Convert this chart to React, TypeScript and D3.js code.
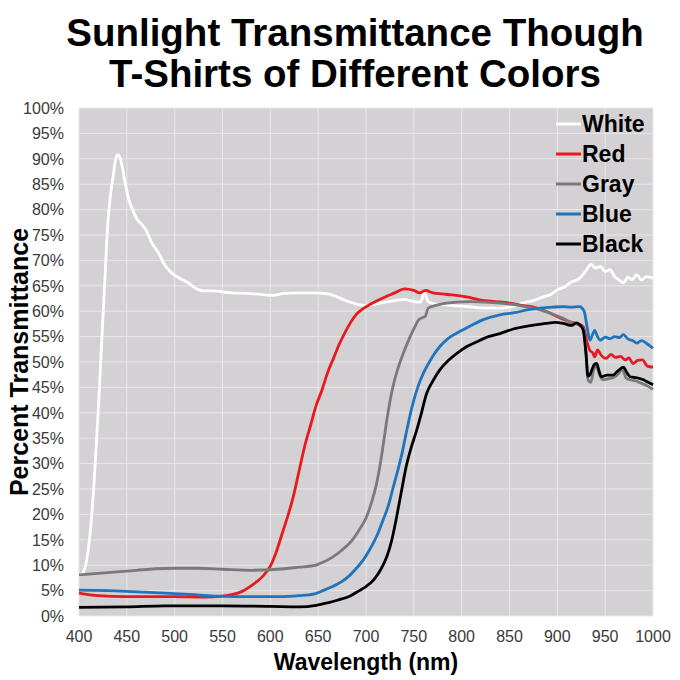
import { useRef, useEffect } from "react";
import * as d3 from "d3";

type Pt = [number, number];

const TITLE_LINES = ["Sunlight Transmittance Though", "T-Shirts of Different Colors"];
const X_TICKS = [400, 450, 500, 550, 600, 650, 700, 750, 800, 850, 900, 950, 1000];
const Y_TICKS = d3.range(0, 101, 5);

// [wavelength nm, percent transmittance]
const WHITE: Pt[] = [
  [400, 8], [404, 8.5], [408, 11], [412, 17], [416, 27], [420, 40], [424, 55], [427, 66],
  [430, 77], [433, 83], [436, 87], [439, 90.5], [441, 90.8], [444, 89.5], [448, 85.5],
  [452, 82], [456, 80], [461, 78], [466, 77], [470, 76], [476, 73.5], [483, 71.5],
  [490, 69], [497, 67.5], [505, 66.5], [515, 65.5], [522, 64.5], [530, 64], [540, 64],
  [550, 63.8], [560, 63.6], [575, 63.5], [590, 63.3], [602, 63.1], [615, 63.5],
  [630, 63.6], [645, 63.6], [660, 63.4], [670, 62.8], [680, 62], [690, 61.4], [700, 61.1],
  [710, 61.4], [720, 61.8], [730, 62.1], [740, 62.3], [750, 61.9], [757, 61.8],
  [761, 63.5], [765, 61.9], [770, 61.5], [780, 61.3], [790, 61.1], [800, 61], [812, 60.8],
  [825, 60.6], [840, 60.6], [855, 61], [865, 61.7], [875, 62.1], [885, 62.8], [893, 63.3],
  [900, 64.2], [908, 64.8], [915, 65.8], [920, 66.1], [925, 66.8], [930, 68], [935, 69.2],
  [940, 68.5], [945, 68.8], [950, 67.8], [955, 68.2], [960, 66.8], [965, 66.1],
  [969, 65.6], [974, 66.7], [978, 66.2], [983, 67.2], [988, 66.1], [993, 66.8], [1000, 66.5],
];

const RED: Pt[] = [
  [400, 4.5], [420, 4], [450, 3.8], [500, 3.8], [530, 3.7], [550, 3.9], [560, 4.2],
  [570, 4.8], [578, 5.7], [586, 6.8], [592, 7.8], [600, 9.8], [606, 12.5], [612, 16],
  [618, 19.5], [624, 23.5], [630, 28.5], [636, 33.5], [642, 37.5], [648, 41.5],
  [654, 44.5], [660, 48], [666, 50.7], [672, 53.5], [678, 55.8], [684, 57.8], [690, 59.4],
  [697, 60.5], [705, 61.4], [712, 62.1], [720, 62.8], [730, 63.6], [740, 64.4],
  [750, 64.1], [756, 63.6], [762, 64.1], [770, 63.6], [780, 63.4], [790, 63.2],
  [805, 62.8], [820, 62.2], [835, 61.9], [850, 61.6], [865, 61.1], [875, 60.8], [888, 60],
  [898, 59.1], [906, 58.4], [913, 57.9], [920, 57.6], [927, 57], [931, 54], [934, 52.3],
  [937, 51.8], [939, 51], [942, 52.4], [946, 51.3], [951, 50.7], [956, 51.5], [961, 50.9],
  [966, 51.1], [971, 50.4], [975, 50.8], [979, 49.7], [984, 50.3], [989, 50.4],
  [994, 49.2], [1000, 49],
];

const GRAY: Pt[] = [
  [400, 8.1], [420, 8.4], [440, 8.7], [460, 9], [480, 9.3], [500, 9.4], [525, 9.4],
  [550, 9.2], [580, 9], [600, 9.1], [615, 9.3], [630, 9.6], [645, 9.9], [655, 10.6],
  [665, 11.6], [675, 13], [685, 14.8], [693, 17], [700, 19.3], [706, 22.5], [711, 26],
  [715, 30], [719, 35], [723, 40], [728, 45], [733, 48.5], [739, 51.7], [745, 54.5],
  [750, 56.5], [755, 58.3], [760, 58.8], [762, 59], [765, 60.6], [772, 61.1], [781, 61.5],
  [795, 61.8], [810, 61.9], [825, 61.8], [840, 61.6], [855, 61.3], [870, 60.8],
  [885, 60.1], [898, 59.2], [906, 58.6], [913, 57.9], [920, 57.5], [927, 56.6], [930, 52],
  [932, 46.5], [935, 46], [938, 48.5], [941, 49.2], [944, 47.5], [948, 46.5],
  [953, 46.7], [958, 46.9], [963, 47.5], [968, 48.5], [972, 46.8], [976, 46.5],
  [982, 46.3], [988, 45.8], [994, 45.3], [1000, 44.6],
];

const BLUE: Pt[] = [
  [400, 5.1], [430, 5], [456, 4.8], [490, 4.5], [520, 4.2], [545, 3.9], [580, 3.8],
  [610, 3.8], [630, 4], [645, 4.3], [655, 5], [665, 5.8], [675, 6.8], [683, 8], [690, 9.4],
  [697, 11], [703, 12.8], [708, 14.5], [713, 16.5], [718, 19], [723, 21.5], [728, 25],
  [733, 28.5], [738, 32.3], [742, 36], [746, 39.5], [750, 42.5], [755, 45.5], [760, 47.8],
  [765, 49.6], [770, 51.2], [777, 53], [785, 54.5], [798, 56], [810, 57.2], [822, 58.3],
  [840, 59.3], [855, 59.7], [870, 60.3], [882, 60.6], [895, 60.8], [906, 60.9],
  [915, 60.8], [923, 60.9], [928, 60], [931, 57], [934, 54.3], [937, 55.5], [939, 56.2],
  [942, 55], [945, 54.3], [950, 54.9], [955, 54.6], [960, 55], [965, 54.8], [969, 55.4],
  [974, 54.5], [979, 54.2], [983, 53.7], [988, 54.2], [993, 53.7], [1000, 52.7],
];

const BLACK: Pt[] = [
  [400, 1.7], [450, 1.8], [490, 2], [550, 2], [600, 1.9], [630, 1.8], [648, 2.1],
  [660, 2.6], [670, 3.1], [683, 3.9], [693, 5], [700, 5.8], [708, 7.1], [715, 9],
  [722, 11.8], [727, 15], [732, 19.5], [737, 24.5], [742, 29.4], [747, 33], [753, 36.6],
  [758, 40], [763, 43.6], [770, 46.3], [777, 48.4], [786, 50.3], [795, 51.7], [805, 53],
  [816, 54], [828, 55], [840, 55.6], [854, 56.5], [870, 57.1], [888, 57.6], [898, 57.8],
  [906, 57.6], [915, 57.2], [920, 57.7], [924, 57.2], [927, 56.3], [930, 51.5],
  [932, 47.2], [934, 47.5], [936, 48.4], [939, 49.6], [941, 49.7], [944, 48], [946, 47.1],
  [952, 47.4], [958, 47.4], [963, 48.2], [969, 49], [973, 47.8], [976, 47.1], [983, 46.9],
  [990, 46.5], [995, 46], [1000, 45.5],
];

const SERIES = [
  { name: "White", color: "#ffffff", data: WHITE },
  { name: "Red", color: "#e8191f", data: RED },
  { name: "Gray", color: "#7a7a7a", data: GRAY },
  { name: "Blue", color: "#1f74bd", data: BLUE },
  { name: "Black", color: "#000000", data: BLACK },
];

const FONT = "'Liberation Sans', Arial, sans-serif";

function Chart() {
  const svgRef = useRef<SVGSVGElement>(null);

  useEffect(() => {
    if (!svgRef.current) return;
    const svg = d3.select(svgRef.current);
    svg.selectAll("*").remove();

    const W = 680;
    const H = 680;
    const margin = { top: 108, right: 27, bottom: 64, left: 79 };
    const width = W - margin.left - margin.right;
    const height = H - margin.top - margin.bottom;

    svg.append("rect").attr("width", W).attr("height", H).attr("fill", "#ffffff");

    // title
    svg
      .append("g")
      .selectAll("text")
      .data(TITLE_LINES)
      .join("text")
      .attr("x", 355)
      .attr("y", (_, i) => 46 + i * 41)
      .attr("text-anchor", "middle")
      .attr("font-family", FONT)
      .attr("font-weight", "bold")
      .attr("font-size", 38.5)
      .attr("fill", "#000")
      .text((d) => d);

    const g = svg
      .append("g")
      .attr("transform", `translate(${margin.left},${margin.top})`);

    const x = d3.scaleLinear().domain([400, 1000]).range([0, width]);
    const y = d3.scaleLinear().domain([0, 100]).range([height, 0]);

    g.append("rect")
      .attr("width", width)
      .attr("height", height)
      .attr("fill", "#d3d1d3");

    // grid
    g.append("g")
      .selectAll("line")
      .data(X_TICKS)
      .join("line")
      .attr("x1", (d) => x(d))
      .attr("x2", (d) => x(d))
      .attr("y1", 0)
      .attr("y2", height)
      .attr("stroke", "#e8e8e8")
      .attr("stroke-width", 1);

    g.append("g")
      .selectAll("line")
      .data(Y_TICKS)
      .join("line")
      .attr("x1", 0)
      .attr("x2", width)
      .attr("y1", (d) => y(d))
      .attr("y2", (d) => y(d))
      .attr("stroke", "#e8e8e8")
      .attr("stroke-width", 1);

    // tick labels
    g.append("g")
      .selectAll("text")
      .data(Y_TICKS)
      .join("text")
      .attr("x", -15)
      .attr("y", (d) => y(d))
      .attr("dy", "0.36em")
      .attr("text-anchor", "end")
      .attr("font-family", FONT)
      .attr("font-size", 16)
      .attr("fill", "#3a3a3a")
      .text((d) => `${d}%`);

    g.append("g")
      .selectAll("text")
      .data(X_TICKS)
      .join("text")
      .attr("x", (d) => x(d))
      .attr("y", height + 26)
      .attr("text-anchor", "middle")
      .attr("font-family", FONT)
      .attr("font-size", 16)
      .attr("fill", "#3a3a3a")
      .text((d) => d);

    // curves
    const line = d3
      .line<Pt>()
      .x((d) => x(d[0]))
      .y((d) => y(d[1]))
      .curve(d3.curveMonotoneX);

    g.append("g")
      .selectAll("path")
      .data(SERIES)
      .join("path")
      .attr("d", (d) => line(d.data))
      .attr("fill", "none")
      .attr("stroke", (d) => d.color)
      .attr("stroke-width", 2.8)
      .attr("stroke-linejoin", "round");

    // legend
    const legend = svg
      .append("g")
      .attr("transform", "translate(556,124)")
      .selectAll("g")
      .data(SERIES)
      .join("g")
      .attr("transform", (_, i) => `translate(0,${i * 30})`);

    legend
      .append("line")
      .attr("x1", 0)
      .attr("x2", 25)
      .attr("stroke", (d) => d.color)
      .attr("stroke-width", 3);

    legend
      .append("text")
      .attr("x", 26)
      .attr("dy", "0.36em")
      .attr("font-family", FONT)
      .attr("font-weight", "bold")
      .attr("font-size", 23)
      .attr("fill", "#000")
      .text((d) => d.name);

    // axis titles
    svg
      .append("text")
      .attr("x", margin.left + width / 2)
      .attr("y", 670)
      .attr("text-anchor", "middle")
      .attr("font-family", FONT)
      .attr("font-weight", "bold")
      .attr("font-size", 23)
      .attr("fill", "#000")
      .text("Wavelength (nm)");

    svg
      .append("text")
      .attr("transform", `translate(28,${margin.top + height / 2}) rotate(-90)`)
      .attr("text-anchor", "middle")
      .attr("font-family", FONT)
      .attr("font-weight", "bold")
      .attr("font-size", 25)
      .attr("fill", "#000")
      .text("Percent Transmittance");
  }, []);

  return <svg ref={svgRef} width={680} height={680} style={{ display: "block" }} />;
}

export default function App() {
  useEffect(() => {
    document.body.style.margin = "0";
  }, []);
  return <Chart />;
}
